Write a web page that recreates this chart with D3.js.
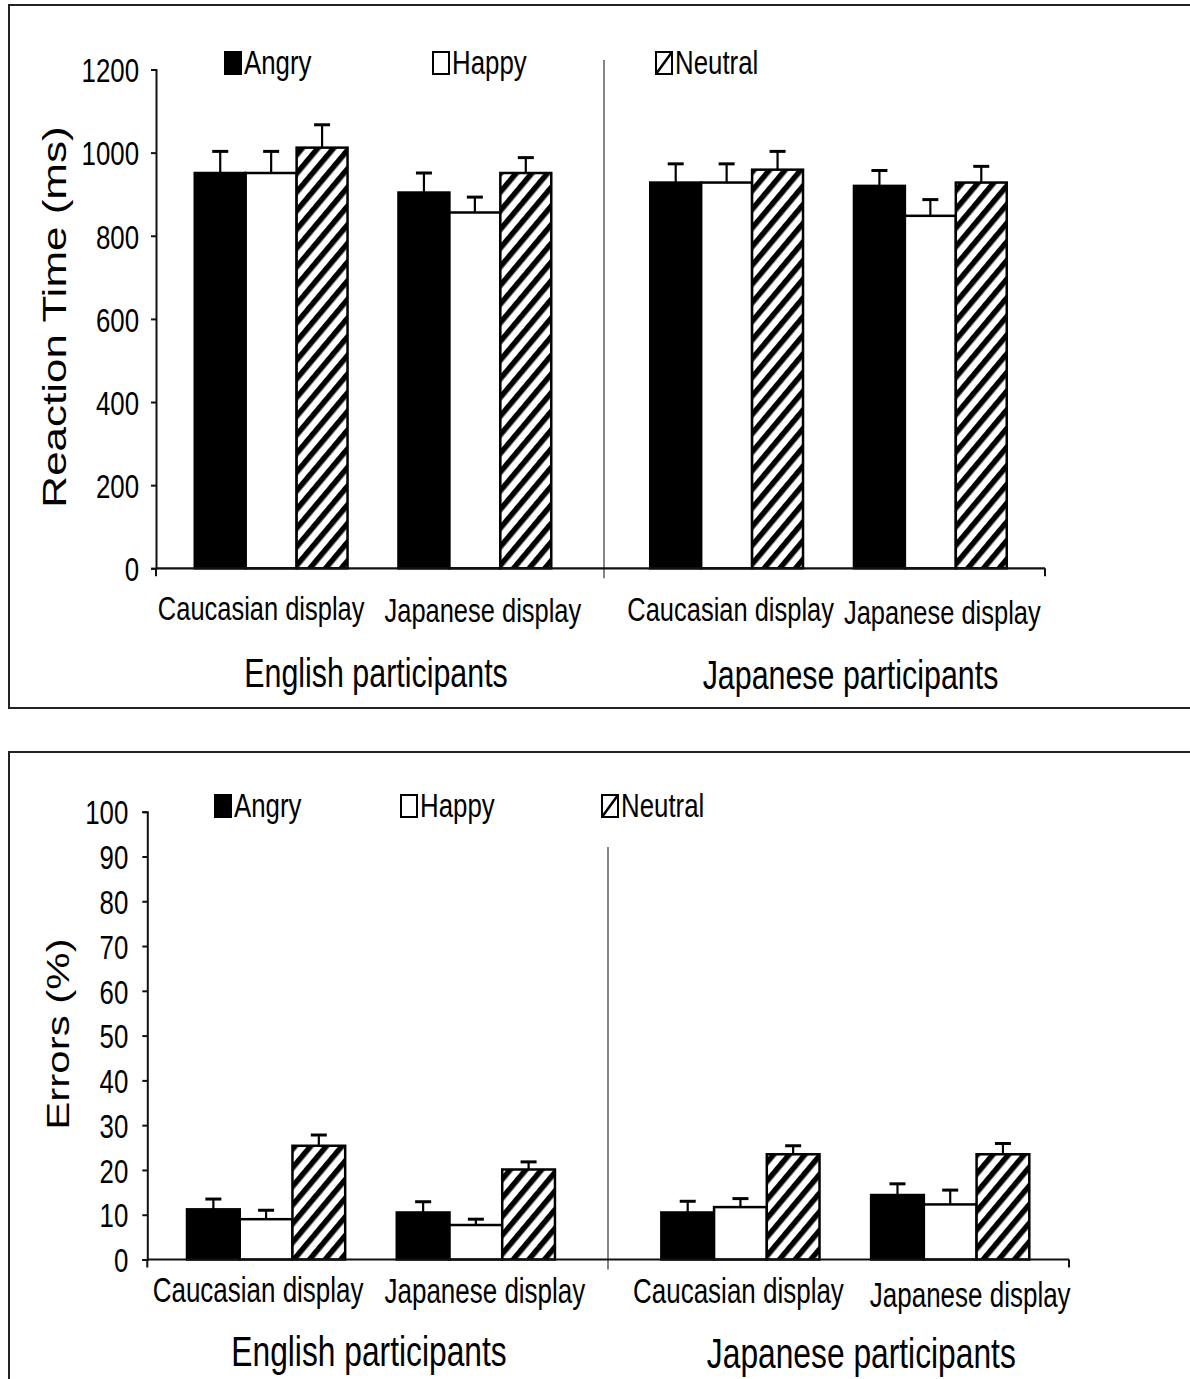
<!DOCTYPE html>
<html><head><meta charset="utf-8">
<script src="https://cdn.jsdelivr.net/npm/d3@7"></script>
<style>html,body{margin:0;padding:0;background:#fff;}svg{display:block;}</style>
</head><body>
<svg id="c" width="1190" height="1379"></svg>
<script>
// ---------- data ----------
const emotions = ["Angry", "Happy", "Neutral"];
const participants = ["English participants", "Japanese participants"];
const displays = ["Caucasian display", "Japanese display"];
// order of values: Eng-Caucasian, Eng-Japanese, Jap-Caucasian, Jap-Japanese
const rtAngry = [951, 904, 928, 920];
const rtHappy = [951, 856, 928, 848];
const rtNeutral = [1012, 951, 959, 928];
const rtAngryErr = [52, 47, 45, 37];
const rtHappyErr = [52, 37, 45, 39];
const rtNeutralErr = [55, 37, 44, 39];
const rtTicks = [0, 200, 400, 600, 800, 1000, 1200];

const errAngry = [11.2, 10.5, 10.5, 14.4];
const errHappy = [9.0, 7.7, 11.7, 12.3];
const errNeutral = [25.4, 20.1, 23.5, 23.5];
const errAngrySE = [2.3, 2.4, 2.5, 2.5];
const errHappySE = [2.0, 1.3, 1.9, 3.2];
const errNeutralSE = [2.4, 1.7, 1.9, 2.4];
const errTicks = [0, 10, 20, 30, 40, 50, 60, 70, 80, 90, 100];

// ---------- rendering ----------
const SX = 0.76; // horizontal squeeze of the original figure's text
const FONT = "'Liberation Sans', Arial, Helvetica, sans-serif";
const svg = d3.select("#c");
const defs = svg.append("defs");
const pat = defs.append("pattern").attr("id", "hatch")
  .attr("patternUnits", "userSpaceOnUse").attr("width", 12).attr("height", 12)
  .attr("patternTransform", "rotate(40)");
pat.append("rect").attr("width", 12).attr("height", 12).attr("fill", "#fff");
pat.append("rect").attr("width", 5.5).attr("height", 12).attr("fill", "#000");

function txt(g, x, y, s, size, anchor, rot) {
  return g.append("text")
    .attr("transform", `translate(${x},${y}) scale(${SX},1)` + (rot ? ` rotate(${rot})` : ""))
    .attr("text-anchor", anchor || "start")
    .attr("font-family", FONT).attr("font-size", size).attr("fill", "#000")
    .text(s);
}

function buildRows(means, errs) {
  const rows = [];
  participants.forEach((p, pi) => displays.forEach((d, di) => emotions.forEach((e, ei) => {
    const k = pi * 2 + di;
    rows.push({p, d, e, v: means[ei][k], se: errs[ei][k]});
  })));
  return rows;
}

function drawChart(cfg, rows, ticks) {
  const g = svg.append("g");
  // panel frame
  g.append("rect").attr("x", cfg.panel[0]).attr("y", cfg.panel[1])
    .attr("width", cfg.panel[2]).attr("height", cfg.panel[3])
    .attr("fill", "none").attr("stroke", "#222").attr("stroke-width", 2);

  const y = d3.scaleLinear().domain(cfg.yDomain).range(cfg.yRange);
  const y0 = y(0);
  const xP = d3.scaleBand().domain(participants).range(cfg.bandRange)
    .paddingInner(cfg.outerPI).paddingOuter(cfg.outerPO);
  const xD = d3.scaleBand().domain(displays).range([0, xP.bandwidth()])
    .paddingInner(cfg.innerPI).paddingOuter(0);
  const xE = d3.scaleBand().domain(emotions).range([0, xD.bandwidth()]).padding(0);
  const bx = r => xP(r.p) + xD(r.d) + xE(r.e);

  // separator
  g.append("line").attr("x1", cfg.sepX).attr("x2", cfg.sepX)
    .attr("y1", cfg.sepTop).attr("y2", y0 + 10)
    .attr("stroke", "#666").attr("stroke-width", 1.6);

  // y axis
  const ax = g.append("g").attr("transform", `translate(${cfg.axisX},0)`)
    .call(d3.axisLeft(y).tickValues(ticks).tickSize(5).tickSizeOuter(5).tickFormat(d3.format("d")));
  ax.select(".domain").attr("stroke", "#111").attr("stroke-width", 2);
  ax.selectAll(".tick line").attr("stroke", "#111").attr("stroke-width", 2);
  ax.selectAll(".tick text").attr("x", null).attr("dy", "0.36em")
    .attr("transform", `translate(${-cfg.labelGap},0) scale(${SX},1)`)
    .attr("font-family", FONT).attr("font-size", 34).attr("fill", "#000");
  g.append("line").attr("x1", cfg.axisX).attr("x2", cfg.axisX)
    .attr("y1", y0).attr("y2", y0 + 8).attr("stroke", "#111").attr("stroke-width", 2);

  // bars
  const fills = {Angry: "#000", Happy: "#fff", Neutral: "url(#hatch)"};
  g.append("g").selectAll("rect").data(rows).join("rect")
    .attr("x", bx).attr("width", xE.bandwidth())
    .attr("y", r => y(r.v)).attr("height", r => y0 - y(r.v))
    .attr("fill", r => fills[r.e]).attr("stroke", "#000").attr("stroke-width", 2.5);

  // error bars (upper only)
  const eb = g.append("g").attr("stroke", "#000");
  eb.selectAll("line.s").data(rows).join("line").attr("class", "s")
    .attr("x1", r => bx(r) + xE.bandwidth() / 2).attr("x2", r => bx(r) + xE.bandwidth() / 2)
    .attr("y1", r => y(r.v)).attr("y2", r => y(r.v + r.se)).attr("stroke-width", 2.2);
  eb.selectAll("line.c").data(rows).join("line").attr("class", "c")
    .attr("x1", r => bx(r) + xE.bandwidth() / 2 - 8).attr("x2", r => bx(r) + xE.bandwidth() / 2 + 8)
    .attr("y1", r => y(r.v + r.se)).attr("y2", r => y(r.v + r.se)).attr("stroke-width", 3);

  // x axis
  g.append("line").attr("x1", cfg.axisX).attr("x2", cfg.axisEnd).attr("y1", y0).attr("y2", y0)
    .attr("stroke", "#111").attr("stroke-width", 2.2);
  g.append("line").attr("x1", cfg.axisEnd).attr("x2", cfg.axisEnd).attr("y1", y0).attr("y2", y0 + 8)
    .attr("stroke", "#111").attr("stroke-width", 2);

  // category labels
  participants.forEach((p, pi) => {
    displays.forEach((d, di) => {
      const cx = xP(p) + xD(d) + xD.bandwidth() / 2 + cfg.catShift[pi * 2 + di];
      txt(g, cx, cfg.catY + cfg.catDy[pi * 2 + di], d, cfg.catSize, "middle");
    });
    const px = xP(p) + xP.bandwidth() / 2 + cfg.partShift[pi];
    txt(g, px, cfg.partY[pi], p, cfg.partSize, "middle");
  });

  // y title
  txt(g, cfg.yTitlePos[0], cfg.yTitlePos[1], cfg.yTitle, cfg.yTitleSize, "middle", -90)
    .attr("dy", "0.36em");

  // legend
  emotions.forEach((e, i) => {
    const lx = cfg.legendX[i], ly = cfg.legendY;
    g.append("rect").attr("x", lx).attr("y", ly).attr("width", 16).attr("height", 22)
      .attr("fill", e === "Angry" ? "#000" : "#fff").attr("stroke", "#000").attr("stroke-width", 2);
    if (e === "Neutral") {
      g.append("line").attr("x1", lx).attr("y1", ly + 22).attr("x2", lx + 16).attr("y2", ly)
        .attr("stroke", "#000").attr("stroke-width", 2.5);
    }
    txt(g, lx + 19, ly + 22, e, 34, "start");
  });
}

const topCfg = {
  panel: [9, 5, 1200, 703],
  yDomain: [0, 1200], yRange: [568.3, 69.5],
  axisX: 156, axisEnd: 1045, bandRange: [156.5, 1045],
  outerPI: 0.2173, outerPO: 0.084, innerPI: 0.25,
  sepX: 604, sepTop: 60, labelGap: 17,
  catY: 620, catDy: [0, 2, 1, 4], catShift: [-10, 8, 4, 12], catSize: 33.5,
  partY: [687, 689], partShift: [3, 22], partSize: 40,
  yTitle: "Reaction Time (ms)", yTitlePos: [54, 317], yTitleSize: 44,
  legendX: [225, 433, 656], legendY: 52
};
const botCfg = {
  panel: [9, 752, 1200, 700],
  yDomain: [0, 100], yRange: [1259.5, 811.7],
  axisX: 147.3, axisEnd: 1069, bandRange: [147.3, 1069],
  outerPI: 0.2243, outerPO: 0.0837, innerPI: 0.246,
  sepX: 608, sepTop: 847, labelGap: 19,
  catY: 1302, catDy: [0, 1, 1, 5], catShift: [-8, 9, -2, 20], catSize: 34.2,
  partY: [1366, 1368], partShift: [-2, 16], partSize: 41.8,
  yTitle: "Errors (%)", yTitlePos: [58, 1034], yTitleSize: 42,
  legendX: [215, 401, 602], legendY: 795
};

drawChart(topCfg, buildRows([rtAngry, rtHappy, rtNeutral], [rtAngryErr, rtHappyErr, rtNeutralErr]), rtTicks);
drawChart(botCfg, buildRows([errAngry, errHappy, errNeutral], [errAngrySE, errHappySE, errNeutralSE]), errTicks);
</script>
</body></html>
